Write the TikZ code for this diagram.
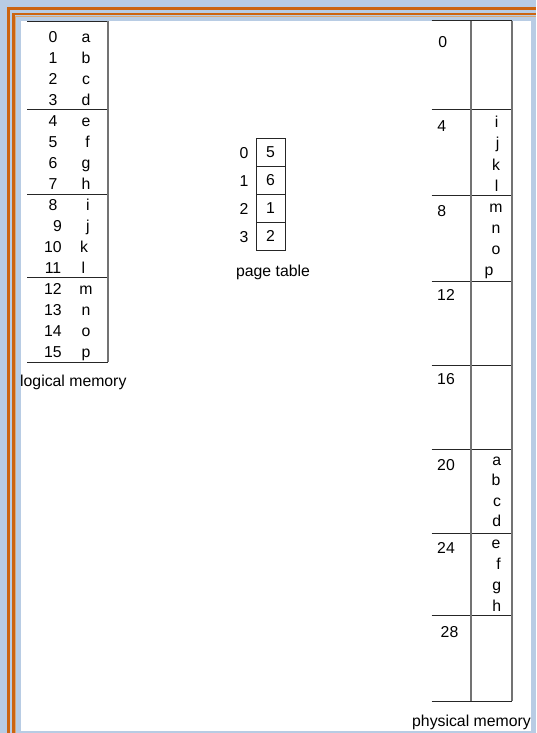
\documentclass[tikz,border=0pt]{standalone}
\usepackage{fontspec}
\setmainfont{Liberation Sans}
\definecolor{bgblue}{HTML}{B8CCE4}
\definecolor{frameor}{HTML}{CC6410}
\definecolor{frametan}{HTML}{D8A878}
\begin{document}
\begin{tikzpicture}[x=1pt,y=-1pt,
  lbl/.style={font=\fontsize{15.8}{19}\selectfont, inner sep=0pt, anchor=base},
  lblw/.style={font=\fontsize{15.8}{19}\selectfont, inner sep=0pt, anchor=base west},
  hrule/.style={line width=1pt, black!85},
  vrule/.style={line width=1.4pt, black!55},
  ptbox/.style={draw=black!85, line width=0.9pt, minimum width=29pt, minimum height=28pt, inner sep=0pt, font=\fontsize{15.8}{19}\selectfont}
]
\useasboundingbox (0,0) rectangle (536,733);
% background frame
\fill[bgblue] (0,0) rectangle (536,733);
\draw[frameor, line width=2.6pt] (8.2,733) -- (8.2,8.7) -- (536,8.7);
\draw[frameor, line width=2.6pt] (13.4,733) -- (13.4,14.2) -- (536,14.2);
\draw[frametan, line width=0.8pt] (15.3,733) -- (15.3,16.0) -- (536,16.0);
\fill[white] (21,21) rectangle (530.5,731);

% ---------- logical memory ----------
\foreach \yy in {21.3,110,194,277,362}
  \draw[hrule] (27,\yy) -- (108,\yy);
\draw[vrule] (108,21.3) -- (108,362);
\foreach \k/\xx in {0/53,1/53,2/53,3/53,4/53,5/53,6/53,7/53,8/53,9/57.5,10/53,11/53,12/53,13/53,14/53,15/53}{
  \pgfmathsetmacro{\yb}{42.7+21*\k}
  \node[lbl] (ln\k) at (\xx,\yb) {\k};
}
\foreach \k/\c/\xx in {0/a/86,1/b/86,2/c/86,3/d/86,4/e/86,5/f/87.5,6/g/86,7/h/86,8/i/88,9/j/88,10/k/84,11/l/83.5,12/m/86,13/n/86,14/o/86,15/p/86}{
  \pgfmathsetmacro{\yb}{42.7+21*\k}
  \node[lbl] (ll\k) at (\xx,\yb) {\c};
}
\node[lblw] (loglbl) at (20,386.5) {logical memory};

% ---------- page table ----------
\node[ptbox] (pt0) at (270.5,152.3) {5};
\node[ptbox] (pt1) at (270.5,180.3) {6};
\node[ptbox] (pt2) at (270.5,208.3) {1};
\node[ptbox] (pt3) at (270.5,236.3) {2};
\node[lbl] (pi0) at (244,158) {0};
\node[lbl] (pi1) at (244,186) {1};
\node[lbl] (pi2) at (244,214) {2};
\node[lbl] (pi3) at (244,242) {3};
\node[lbl] (ptlbl) at (273,276.5) {page table};

% ---------- physical memory ----------
\foreach \yy in {21,110,195,281,365,449.5,533,615,701}
  \draw[hrule] (431.5,\yy) -- (512,\yy);
\draw[vrule] (471,21) -- (471,701);
\draw[vrule] (512,21) -- (512,701);
\foreach \n/\xx/\yb in {0/442.7/47.3,4/441.7/131.7,8/441.7/216.7,12/446/300,16/446/384,20/446/470,24/446/553,28/449.5/637}
  \node[lbl] (pf\n) at (\xx,\yb) {\n};
\foreach \c/\xx/\yb in {i/496.7/128,j/497.5/149,k/496/170,l/496.7/191,m/496/212,n/496/233,o/496/254,p/489/275,a/496.7/465,b/496/485.5,c/497/506,d/496.7/526.5,e/496/548,f/498.5/569,g/496.7/590,h/496.7/611}
  \node[lbl] (pl\c) at (\xx,\yb) {\c};
\node[lblw] (phlbl) at (412,726.5) {physical memory};
\end{tikzpicture}
\end{document}
